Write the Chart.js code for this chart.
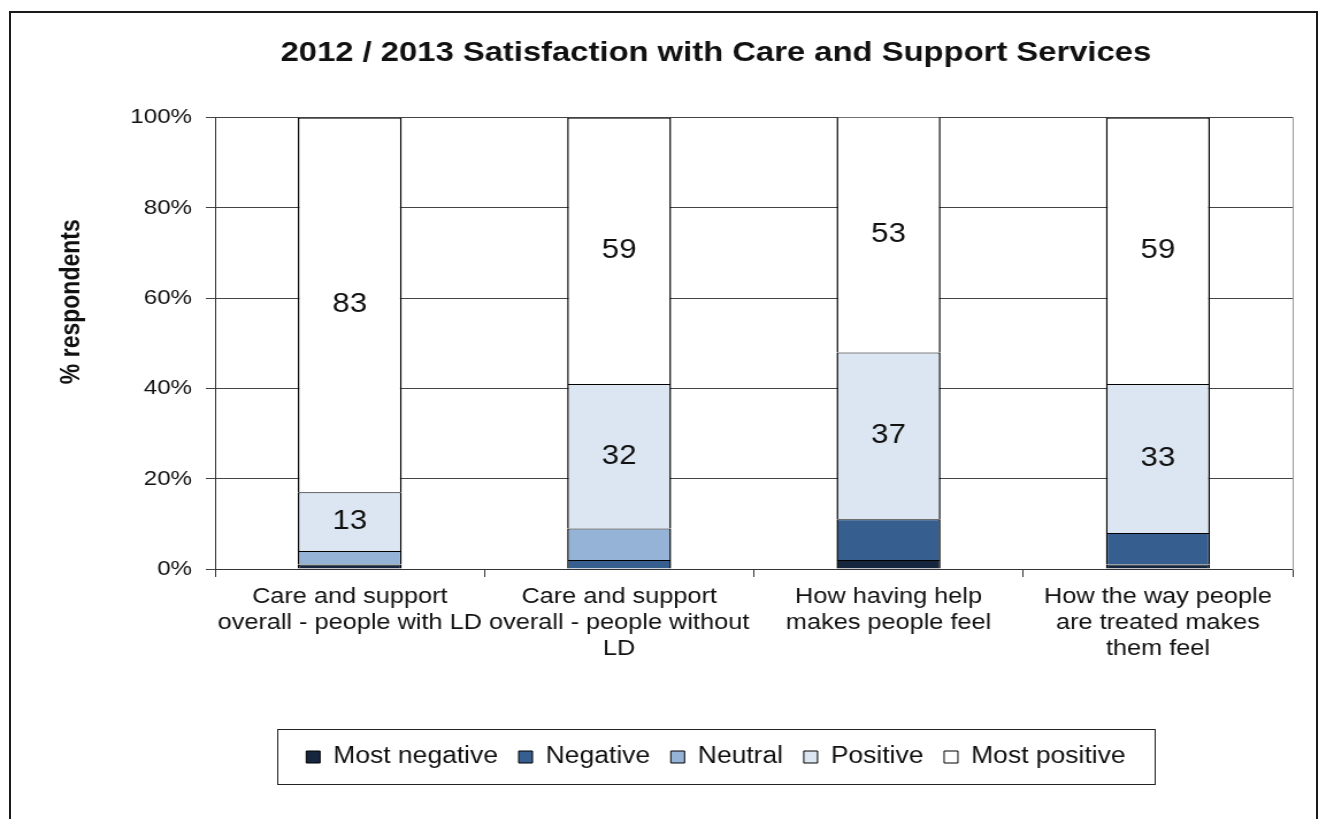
<!DOCTYPE html>
<html>
<head>
<meta charset="utf-8">
<script src="https://cdn.jsdelivr.net/npm/chart.js@4.4.1/dist/chart.umd.min.js"></script>
<style>
  html, body { margin: 0; padding: 0; background: #fff; }
  body { width: 1319px; height: 819px; overflow: hidden; position: relative; }
  #frame { position: absolute; left: 9px; top: 11px; width: 1309px; height: 900px; box-sizing: border-box; border: 2px solid #1a1a1a; }
  #chart { position: absolute; left: 0; top: 0; transform: scaleX(1.15); transform-origin: 0 0; }
</style>
</head>
<body>
<div id="frame"></div>
<canvas id="chart" width="1147" height="819"></canvas>
<script>
var FONT = "'Liberation Sans', Arial, sans-serif";

var titleText = '2012 / 2013 Satisfaction with Care and Support Services';
var yTitle = '% respondents';
var categories = [
  ['Care and support', 'overall - people with LD'],
  ['Care and support', 'overall - people without', 'LD'],
  ['How having help', 'makes people feel'],
  ['How the way people', 'are treated makes', 'them feel']
];
var mostNegative = [1, 0, 2, 1];
var negative = [0, 2, 9, 7];
var neutral = [3, 7, 0, 0];
var positive = [13, 32, 37, 33];
var mostPositive = [83, 59, 53, 59];
var yTicks = [0, 20, 40, 60, 80, 100];

function series(label, data, colour, showValues) {
  return {
    label: label,
    data: data,
    backgroundColor: colour,
    borderColor: '#000',
    borderWidth: {top: 1, right: 1.5, bottom: 0, left: 1.5},
    borderSkipped: false,
    barPercentage: 0.386,
    categoryPercentage: 1,
    showValues: showValues
  };
}

// numbers written in the middle of the two positive segments
var valueLabels = {
  id: 'valueLabels',
  afterDatasetsDraw: function(chart) {
    var ctx = chart.ctx;
    ctx.save();
    ctx.font = '27px ' + FONT;
    ctx.fillStyle = '#111';
    ctx.textAlign = 'center';
    ctx.textBaseline = 'middle';
    chart.data.datasets.forEach(function(ds, i) {
      if (!ds.showValues) return;
      chart.getDatasetMeta(i).data.forEach(function(bar, j) {
        var v = ds.data[j];
        if (!v) return;
        var top = Math.max(bar.y, chart.chartArea.top);
        ctx.fillText(String(v), bar.x, (top + bar.base) / 2);
      });
    });
    ctx.restore();
  }
};

// legend box and the vertical axis title
var extras = {
  id: 'extras',
  afterDraw: function(chart) {
    var ctx = chart.ctx, area = chart.chartArea;
    var boxes = chart.legend.legendHitBoxes;
    ctx.save();
    var first = boxes[0], last = boxes[boxes.length - 1];
    var mid = first.top + first.height / 2;
    ctx.strokeStyle = '#222';
    ctx.lineWidth = 1;
    ctx.strokeRect(Math.round(first.left - 25) + 0.5, Math.round(mid - 28) + 0.5,
      Math.round(last.left + last.width - first.left + 51), 55);

    ctx.translate(area.left - 124, area.top + 184);
    ctx.rotate(-Math.PI / 2);
    ctx.font = 'bold 23px ' + FONT;
    ctx.fillStyle = '#111';
    ctx.textAlign = 'center';
    ctx.textBaseline = 'middle';
    ctx.fillText(yTitle, 0, 0);
    ctx.restore();
  }
};

new Chart(document.getElementById('chart'), {
  type: 'bar',
  data: {
    labels: categories,
    datasets: [
      series('Most negative', mostNegative, '#16263f', false),
      series('Negative', negative, '#365f90', false),
      series('Neutral', neutral, '#95b3d7', false),
      series('Positive', positive, '#dce6f2', true),
      series('Most positive', mostPositive, '#ffffff', true)
    ]
  },
  options: {
    responsive: false,
    animation: false,
    layout: {padding: {left: 100, right: 2, top: 0, bottom: 40.5}},
    plugins: {
      title: {
        display: true,
        text: titleText,
        color: '#111',
        font: {family: FONT, size: 28.5, weight: 'bold'},
        padding: {top: 36, bottom: 47.5}
      },
      legend: {
        position: 'bottom',
        labels: {
          color: '#111',
          font: {family: FONT, size: 23},
          boxWidth: 12,
          boxHeight: 12,
          padding: 18
        }
      },
      tooltip: {enabled: false}
    },
    scales: {
      x: {
        stacked: true,
        grid: {drawOnChartArea: false, color: '#333', tickLength: 8},
        border: {color: '#333'},
        ticks: {
          color: '#111',
          font: {family: FONT, size: 22, lineHeight: 1.18},
          padding: 7,
          maxRotation: 0,
          autoSkip: false
        },
        afterFit: function(s) { s.height = 158.5; }
      },
      y: {
        stacked: true,
        min: 0,
        max: 100,
        grid: {color: '#444', tickLength: 8},
        border: {color: '#333'},
        ticks: {
          color: '#111',
          font: {family: FONT, size: 21},
          padding: 12,
          callback: function(v) { return v + '%'; }
        },
        afterBuildTicks: function(s) {
          s.ticks = yTicks.map(function(v) { return {value: v}; });
        },
        afterFit: function(s) { s.width = 87; }
      },
      // right-hand edge of the plot area
      edge: {
        position: 'right',
        min: 0,
        max: 100,
        grid: {display: false},
        ticks: {display: false},
        border: {color: '#9a9a9a'},
        afterFit: function(s) { s.width = 21; }
      }
    }
  },
  plugins: [valueLabels, extras]
});
</script>
</body>
</html>
